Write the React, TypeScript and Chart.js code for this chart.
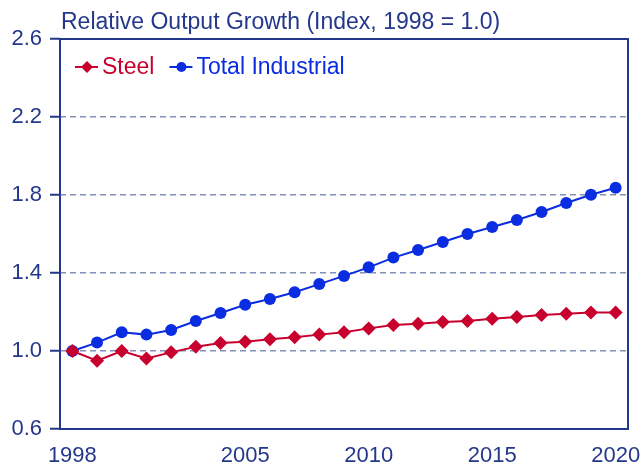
import React, { useEffect, useRef } from "react";
import { Chart, registerables } from "chart.js";

Chart.register(...registerables);

const years = [1998, 1999, 2000, 2001, 2002, 2003, 2004, 2005, 2006, 2007, 2008, 2009, 2010, 2011, 2012, 2013, 2014, 2015, 2016, 2017, 2018, 2019, 2020];
const steel = [1.0, 0.95, 1.0, 0.962, 0.993, 1.022, 1.041, 1.048, 1.06, 1.07, 1.084, 1.096, 1.116, 1.133, 1.14, 1.149, 1.154, 1.166, 1.174, 1.185, 1.191, 1.198, 1.198];
const industrial = [1.0, 1.043, 1.096, 1.084, 1.108, 1.154, 1.195, 1.237, 1.267, 1.301, 1.343, 1.385, 1.429, 1.479, 1.518, 1.559, 1.6, 1.636, 1.672, 1.713, 1.759, 1.801, 1.837];
const xTickYears = [1998, 2005, 2010, 2015, 2020];
const yTickValues = [0.6, 1.0, 1.4, 1.8, 2.2, 2.6];
const titleText = "Relative Output Growth (Index, 1998 = 1.0)";
const seriesNames = ["Steel", "Total Industrial"];

const NAVY = "#23388a";
const RED = "#c8002d";
const BLUE = "#0a2de2";
const GRID = "#8390b8";
const FONT = "'Liberation Sans', Arial, Helvetica, sans-serif";

const decorPlugin = {
  id: "decor",
  afterDraw(chart: any) {
    const ctx = chart.ctx;
    const a = chart.chartArea;
    ctx.save();
    ctx.strokeStyle = NAVY;
    ctx.lineWidth = 2;
    ctx.setLineDash([]);
    ctx.strokeRect(a.left, a.top, a.right - a.left, a.bottom - a.top);
    ctx.fillStyle = NAVY;
    ctx.font = `23px ${FONT}`;
    ctx.textBaseline = "alphabetic";
    ctx.textAlign = "left";
    ctx.fillText(titleText, a.left + 1, 29);
    const items = chart.data.datasets.map((d: any) => ({
      label: d.label,
      color: d.borderColor,
      style: d.pointStyle,
    }));
    let x = a.left + 15;
    const y = a.top + 28;
    ctx.font = `23px ${FONT}`;
    items.forEach((it: any) => {
      ctx.strokeStyle = it.color;
      ctx.fillStyle = it.color;
      ctx.lineWidth = 2;
      ctx.beginPath();
      ctx.moveTo(x, y);
      ctx.lineTo(x + 23, y);
      ctx.stroke();
      const cx = x + 12;
      ctx.beginPath();
      if (it.style === "rectRot") {
        const r = 6;
        ctx.moveTo(cx, y - r);
        ctx.lineTo(cx + r, y);
        ctx.lineTo(cx, y + r);
        ctx.lineTo(cx - r, y);
        ctx.closePath();
      } else {
        ctx.arc(cx, y, 5, 0, Math.PI * 2);
      }
      ctx.fill();
      ctx.textBaseline = "middle";
      ctx.fillText(it.label, x + 27, y + 1);
      const w = ctx.measureText(it.label).width;
      x += 27 + w + 15;
    });
    ctx.restore();
  },
};

export default function App() {
  const ref = useRef<HTMLCanvasElement>(null);
  useEffect(() => {
    document.body.style.margin = "0";
    const canvas = ref.current!;
    const chart = new Chart(canvas, {
      type: "line",
      data: {
        datasets: [
          {
            label: seriesNames[0],
            data: years.map((yr, i) => ({ x: yr, y: steel[i] })),
            borderColor: RED,
            backgroundColor: RED,
            pointStyle: "rectRot",
            pointRadius: 7,
            pointBorderWidth: 0,
            borderWidth: 2,
          },
          {
            label: seriesNames[1],
            data: years.map((yr, i) => ({ x: yr, y: industrial[i] })),
            borderColor: BLUE,
            backgroundColor: BLUE,
            pointStyle: "circle",
            pointRadius: 6,
            pointBorderWidth: 0,
            borderWidth: 2,
          },
        ],
      },
      options: {
        responsive: false,
        animation: false,
        layout: { padding: { top: 39, right: 14, left: 0, bottom: 0 } },
        plugins: {
          legend: { display: false },
          title: { display: false },
          tooltip: { enabled: false },
        },
        scales: {
          x: {
            type: "linear",
            min: 1997.5,
            max: 2020.5,
            afterBuildTicks: (axis: any) => {
              axis.ticks = xTickYears.map((v) => ({ value: v }));
            },
            afterFit: (s: any) => {
              s.height = 34;
              s.paddingLeft = 0;
              s.paddingRight = 0;
            },
            grid: { display: false },
            border: { display: false },
            ticks: {
              color: NAVY,
              font: { family: FONT, size: 22 },
              padding: 6,
              maxRotation: 0,
              autoSkip: false,
              callback: (v: any) => String(v),
            },
          },
          y: {
            min: 0.6,
            max: 2.6,
            afterBuildTicks: (axis: any) => {
              axis.ticks = yTickValues.map((v) => ({ value: v }));
            },
            afterFit: (s: any) => {
              s.width = 60;
              s.paddingTop = 0;
              s.paddingBottom = 0;
            },
            border: { display: false, dash: [6, 4] },
            grid: {
              color: (c: any) =>
                c.tick && (Math.abs(c.tick.value - 0.6) < 1e-6 || Math.abs(c.tick.value - 2.6) < 1e-6)
                  ? "rgba(0,0,0,0)"
                  : GRID,
              lineWidth: 1.5,
              tickLength: 10,
              tickColor: NAVY,
              tickWidth: 2,
              tickBorderDash: [],
            },
            ticks: {
              color: NAVY,
              font: { family: FONT, size: 22 },
              padding: 8,
              callback: (v: any) => Number(v).toFixed(1),
            },
          },
        },
      },
      plugins: [decorPlugin],
    });
    return () => chart.destroy();
  }, []);
  return (
    <div style={{ width: 642, height: 463 }}>
      <canvas ref={ref} width={642} height={463} style={{ display: "block" }} />
    </div>
  );
}
